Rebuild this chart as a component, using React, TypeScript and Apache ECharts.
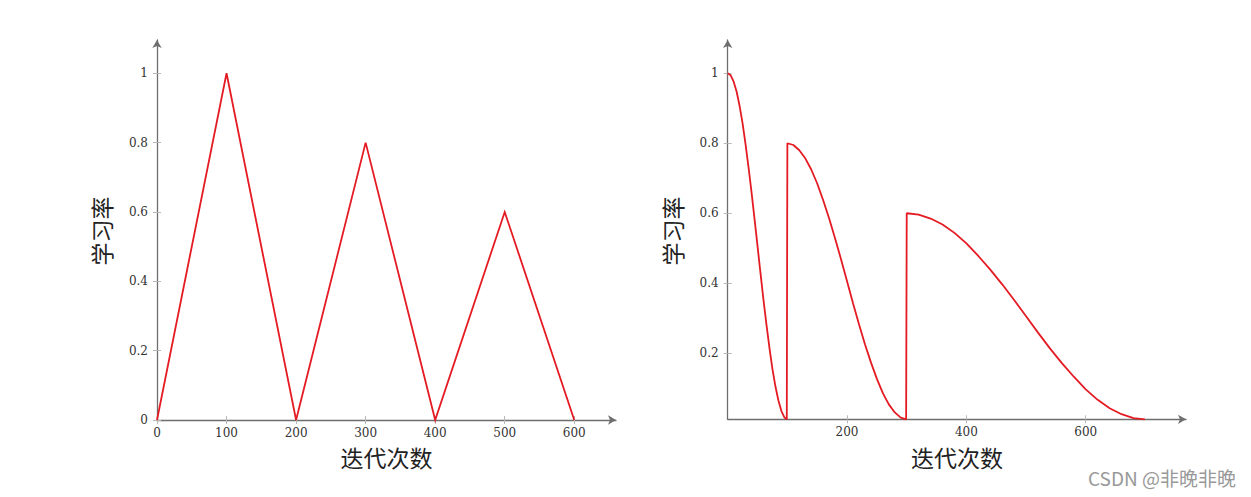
import { useEffect, useRef } from "react";
import * as echarts from "echarts";

// Left chart: triangular cyclic learning rate
const leftIter = [0, 100, 200, 300, 400, 500, 600];
const leftLr = [0, 1, 0, 0.8, 0, 0.6, 0];
const leftXTicks = [0, 100, 200, 300, 400, 500, 600];
const leftYTicks = [0, 0.2, 0.4, 0.6, 0.8, 1];

// Right chart: cosine annealing with warm restarts
const rightIter = [
  0, 5, 10, 15, 20, 25, 30, 35, 40, 45, 50, 55, 60, 65, 70, 75, 80, 85, 90, 95, 99,
  100, 110, 120, 130, 140, 150, 160, 170, 180, 190, 200, 210, 220, 230, 240, 250, 260, 270, 280, 290, 299,
  300, 320, 340, 360, 380, 400, 420, 440, 460, 480, 500, 520, 540, 560, 580, 600, 620, 640, 660, 680, 699,
];
const rightLr = [
  1, 0.994, 0.976, 0.947, 0.906, 0.856, 0.796, 0.73, 0.659, 0.583, 0.506, 0.428, 0.352, 0.281, 0.215, 0.155, 0.105, 0.065, 0.035, 0.017, 0.011,
  0.8, 0.795, 0.78, 0.757, 0.725, 0.685, 0.637, 0.585, 0.528, 0.468, 0.406, 0.343, 0.283, 0.226, 0.174, 0.127, 0.086, 0.054, 0.031, 0.016, 0.011,
  0.6, 0.596, 0.585, 0.568, 0.544, 0.514, 0.478, 0.439, 0.397, 0.352, 0.306, 0.259, 0.214, 0.172, 0.133, 0.097, 0.067, 0.043, 0.026, 0.015, 0.011,
];
const rightXTicks = [200, 400, 600];
const rightYTicks = [0.2, 0.4, 0.6, 0.8, 1];

const xName = "迭代次数";
const yName = "学习率";
const watermark = "CSDN @非晚非晚";

const RED = "#e41b23";
const AXIS = "#6e6e6e";
const TICK = "#b8b8b8";
const SERIF = "'DejaVu Serif', 'Liberation Serif', serif";
const CJK = "'Noto Sans CJK SC', sans-serif";

function mainAxis(dim: "x" | "y", gridIndex: number, min: number, max: number, ticks: number[]) {
  return {
    type: "value",
    gridIndex,
    min,
    max,
    position: dim === "x" ? "bottom" : "left",
    axisLine: {
      show: true,
      onZero: false,
      symbol: ["none", "arrow"],
      symbolSize: [7, 8],
      lineStyle: { color: AXIS, width: 1.3 },
    },
    axisTick: { show: true, inside: true, length: 4, customValues: ticks, lineStyle: { color: TICK, width: 1 } },
    axisLabel: {
      show: true,
      customValues: ticks,
      margin: dim === "x" ? 7 : 9,
      fontFamily: SERIF,
      fontSize: 12,
      color: "#333",
    },
    splitLine: { show: false },
  };
}

function tickAxis(dim: "x" | "y", gridIndex: number, min: number, max: number, ticks: number[]) {
  return {
    type: "value",
    gridIndex,
    min,
    max,
    position: dim === "x" ? "bottom" : "left",
    axisLine: { show: false, onZero: false },
    axisTick: { show: true, inside: false, length: 4, customValues: ticks, lineStyle: { color: TICK, width: 1 } },
    axisLabel: { show: false },
    splitLine: { show: false },
  };
}

export default function App() {
  const ref = useRef<HTMLDivElement>(null);
  useEffect(() => {
    const chart = echarts.init(ref.current!, null, { renderer: "svg" });
    const gL = { left: 157, top: 40, width: 459, height: 380 };
    const gR = { left: 727.7, top: 40, width: 458.3, height: 379.3 };
    const lxMax = 660, lyMax = 1.096;
    const rxMax = 768, ryMin = 0.0114, ryMax = 1.095;
    chart.setOption({
      animation: false,
      backgroundColor: "#fff",
      grid: [gL, gL, gR, gR],
      xAxis: [
        mainAxis("x", 0, 0, lxMax, leftXTicks),
        tickAxis("x", 1, 0, lxMax, leftXTicks),
        mainAxis("x", 2, 0, rxMax, rightXTicks),
        tickAxis("x", 3, 0, rxMax, rightXTicks),
      ],
      yAxis: [
        mainAxis("y", 0, 0, lyMax, leftYTicks),
        tickAxis("y", 1, 0, lyMax, leftYTicks),
        mainAxis("y", 2, ryMin, ryMax, rightYTicks),
        tickAxis("y", 3, ryMin, ryMax, rightYTicks),
      ],
      series: [
        {
          type: "line",
          xAxisIndex: 0,
          yAxisIndex: 0,
          data: leftIter.map((x, i) => [x, leftLr[i]]),
          symbol: "none",
          lineStyle: { color: RED, width: 1.8, join: "miter" },
          clip: false,
        },
        {
          type: "line",
          xAxisIndex: 2,
          yAxisIndex: 2,
          data: rightIter.map((x, i) => [x, rightLr[i]]),
          symbol: "none",
          lineStyle: { color: RED, width: 1.8 },
          clip: false,
        },
      ],
      graphic: [
        { type: "text", x: 386.5, y: 457, style: { text: xName, font: `23px ${CJK}`, fill: "#222", textAlign: "center", textVerticalAlign: "middle" } },
        { type: "text", x: 957, y: 457, style: { text: xName, font: `23px ${CJK}`, fill: "#222", textAlign: "center", textVerticalAlign: "middle" } },
        { type: "text", x: 101, y: 231, rotation: Math.PI / 2, style: { text: yName, font: `23px ${CJK}`, fill: "#222", textAlign: "center", textVerticalAlign: "middle" } },
        { type: "text", x: 672, y: 231, rotation: Math.PI / 2, style: { text: yName, font: `23px ${CJK}`, fill: "#222", textAlign: "center", textVerticalAlign: "middle" } },
        { type: "text", x: 1236, y: 477, style: { text: watermark, font: `19px ${CJK}`, fill: "#999", textAlign: "right", textVerticalAlign: "middle" } },
      ],
    });
    return () => chart.dispose();
  }, []);
  return <div ref={ref} style={{ position: "fixed", left: 0, top: 0, width: 1251, height: 497, background: "#fff" }} />;
}
